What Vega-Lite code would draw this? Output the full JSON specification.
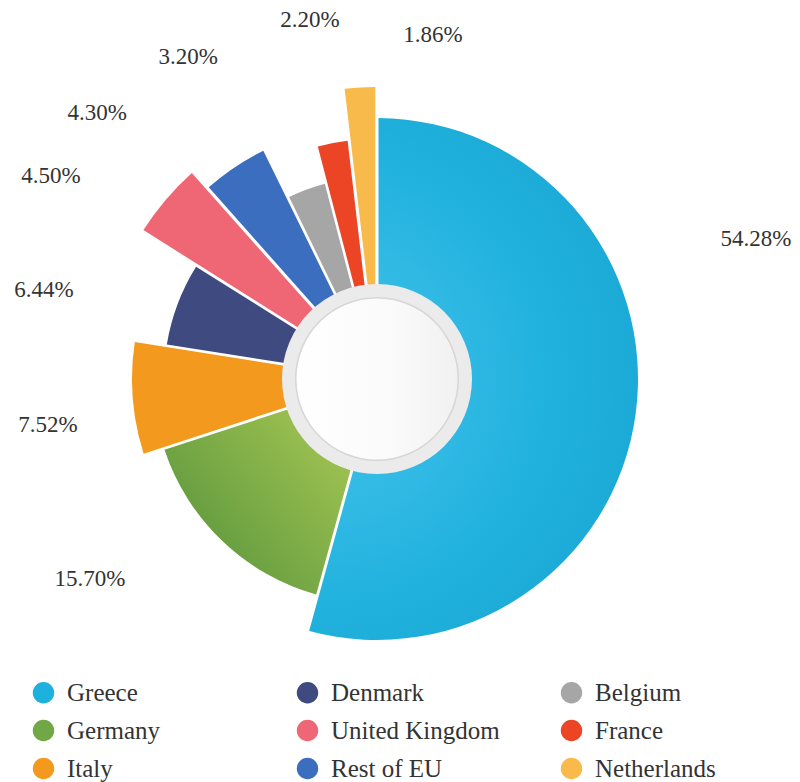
{
  "$schema": "https://vega.github.io/schema/vega-lite/v6.json",
  "width": 754,
  "height": 758,
  "autosize": {"type": "none"},
  "padding": {"left": 0, "top": 0, "right": 46, "bottom": 24},
  "background": "#ffffff",
  "config": {"view": {"stroke": null}},
  "layer": [
    {
      "data": {
        "values": [
          {"country": "Greece", "share": 0.5428},
          {"country": "Germany", "share": 0.1570},
          {"country": "Italy", "share": 0.0752},
          {"country": "Denmark", "share": 0.0644},
          {"country": "United Kingdom", "share": 0.0450},
          {"country": "Rest of EU", "share": 0.0430},
          {"country": "Belgium", "share": 0.0320},
          {"country": "France", "share": 0.0220},
          {"country": "Netherlands", "share": 0.0186}
        ]
      },
      "transform": [
        {"stack": "share", "groupby": [], "sort": [{"field": "share", "order": "descending"}], "as": ["s0", "s1"]}
      ],
      "layer": [
        {
          "encoding": {
            "theta": {"field": "s0", "type": "quantitative", "scale": {"domain": [0, 1], "range": [0, 6.283185307]}},
            "theta2": {"field": "s1"},
            "color": {
              "field": "country",
              "type": "nominal",
              "scale": {
                "domain": ["Greece", "Germany", "Italy", "Denmark", "United Kingdom", "Rest of EU", "Belgium", "France", "Netherlands"],
                "range": ["#1EB1DE", "#6FA845", "#F39A1E", "#3F4A80", "#EF6674", "#3B6EBF", "#A6A6A6", "#EC4526", "#F9BA4C"]
              },
              "legend": {
                "orient": "none",
                "legendX": 31,
                "legendY": 680,
                "columns": 3,
                "gridAlign": "all",
                "columnPadding": 59,
                "rowPadding": 12,
                "symbolType": "circle",
                "symbolSize": 460,
                "symbolStrokeWidth": 0,
                "labelFont": "Liberation Serif",
                "labelFontSize": 25,
                "labelColor": "#333333",
                "labelOffset": 11,
                "labelLimit": 0,
                "title": null,
                "padding": 0
              }
            }
          },
          "layer": [
            {
              "transform": [{"filter": {"field": "country", "equal": "Greece"}}],
              "mark": {"type": "arc", "innerRadius": 92, "outerRadius": 261, "padAngle": 0.011},
              "encoding": {
                "color": {"value": {"gradient": "radial", "x1": 0.21, "y1": 0.5, "r1": 0, "x2": 0.21, "y2": 0.5, "r2": 0.85,
                  "stops": [{"offset": 0, "color": "#45c4ec"}, {"offset": 0.5, "color": "#22b2de"}, {"offset": 1, "color": "#13a0cd"}]}}
              }
            },
            {
              "transform": [{"filter": {"field": "country", "equal": "Germany"}}],
              "mark": {"type": "arc", "innerRadius": 92, "outerRadius": 224, "padAngle": 0.011},
              "encoding": {
                "color": {"value": {"gradient": "linear", "x1": 0.9, "y1": 0.1, "x2": 0.1, "y2": 0.75,
                  "stops": [{"offset": 0, "color": "#a0c351"}, {"offset": 1, "color": "#5e983e"}]}}
              }
            },
            {
              "transform": [{"filter": {"field": "country", "equal": "Italy"}}],
              "mark": {"type": "arc", "innerRadius": 92, "outerRadius": 245, "padAngle": 0.011}
            },
            {
              "transform": [{"filter": {"field": "country", "equal": "Denmark"}}],
              "mark": {"type": "arc", "innerRadius": 92, "outerRadius": 213, "padAngle": 0.011}
            },
            {
              "transform": [{"filter": {"field": "country", "equal": "United Kingdom"}}],
              "mark": {"type": "arc", "innerRadius": 92, "outerRadius": 277, "padAngle": 0.011}
            },
            {
              "transform": [{"filter": {"field": "country", "equal": "Rest of EU"}}],
              "mark": {"type": "arc", "innerRadius": 92, "outerRadius": 255, "padAngle": 0.011}
            },
            {
              "transform": [{"filter": {"field": "country", "equal": "Belgium"}}],
              "mark": {"type": "arc", "innerRadius": 92, "outerRadius": 202, "padAngle": 0.011}
            },
            {
              "transform": [{"filter": {"field": "country", "equal": "France"}}],
              "mark": {"type": "arc", "innerRadius": 92, "outerRadius": 240, "padAngle": 0.011}
            },
            {
              "transform": [{"filter": {"field": "country", "equal": "Netherlands"}}],
              "mark": {"type": "arc", "innerRadius": 92, "outerRadius": 292, "padAngle": 0.011}
            }
          ]
        },
        {
          "encoding": {
            "text": {"field": "share", "type": "quantitative", "format": ".2%"}
          },
          "layer": [
            {
              "transform": [{"filter": {"field": "country", "equal": "Greece"}}],
              "mark": {"type": "text", "theta": 1.217, "radius": 404, "font": "Liberation Serif", "fontSize": 23, "fill": "#333333", "align": "center", "baseline": "middle"}
            },
            {
              "transform": [{"filter": {"field": "country", "equal": "Netherlands"}}],
              "mark": {"type": "text", "theta": 0.1614, "radius": 348.5, "font": "Liberation Serif", "fontSize": 23, "fill": "#333333", "align": "center", "baseline": "middle"}
            },
            {
              "transform": [{"filter": {"field": "country", "equal": "France"}}],
              "mark": {"type": "text", "theta": -0.1845, "radius": 365, "font": "Liberation Serif", "fontSize": 23, "fill": "#333333", "align": "center", "baseline": "middle"}
            },
            {
              "transform": [{"filter": {"field": "country", "equal": "Belgium"}}],
              "mark": {"type": "text", "theta": -0.5308, "radius": 373, "font": "Liberation Serif", "fontSize": 23, "fill": "#333333", "align": "center", "baseline": "middle"}
            },
            {
              "transform": [{"filter": {"field": "country", "equal": "Rest of EU"}}],
              "mark": {"type": "text", "theta": -0.8111, "radius": 386, "font": "Liberation Serif", "fontSize": 23, "fill": "#333333", "align": "center", "baseline": "middle"}
            },
            {
              "transform": [{"filter": {"field": "country", "equal": "United Kingdom"}}],
              "mark": {"type": "text", "theta": -1.0139, "radius": 384, "font": "Liberation Serif", "fontSize": 23, "fill": "#333333", "align": "center", "baseline": "middle"}
            },
            {
              "transform": [{"filter": {"field": "country", "equal": "Denmark"}}],
              "mark": {"type": "text", "theta": -1.3097, "radius": 344.7, "font": "Liberation Serif", "fontSize": 23, "fill": "#333333", "align": "center", "baseline": "middle"}
            },
            {
              "transform": [{"filter": {"field": "country", "equal": "Italy"}}],
              "mark": {"type": "text", "theta": -1.7092, "radius": 332.2, "font": "Liberation Serif", "fontSize": 23, "fill": "#333333", "align": "center", "baseline": "middle"}
            },
            {
              "transform": [{"filter": {"field": "country", "equal": "Germany"}}],
              "mark": {"type": "text", "theta": -2.1794, "radius": 349.8, "font": "Liberation Serif", "fontSize": 23, "fill": "#333333", "align": "center", "baseline": "middle"}
            }
          ]
        }
      ]
    },
    {
      "data": {"values": [{}]},
      "mark": {"type": "arc", "innerRadius": 0, "outerRadius": 95, "theta": 0, "theta2": 6.283185307, "fill": "#ebebeb"},
      "encoding": {}
    },
    {
      "data": {"values": [{}]},
      "mark": {"type": "arc", "innerRadius": 80, "outerRadius": 82, "theta": 0, "theta2": 6.283185307, "fill": "#d6d6d6"},
      "encoding": {}
    },
    {
      "data": {"values": [{}]},
      "mark": {"type": "arc", "innerRadius": 0, "outerRadius": 80.5, "theta": 0, "theta2": 6.283185307, "fill": {"gradient": "linear", "x1": 0, "y1": 0.5, "x2": 1, "y2": 0.5, "stops": [{"offset": 0, "color": "#ffffff"}, {"offset": 0.6, "color": "#fafafa"}, {"offset": 1, "color": "#f1f1f1"}]}},
      "encoding": {}
    }
  ]
}
